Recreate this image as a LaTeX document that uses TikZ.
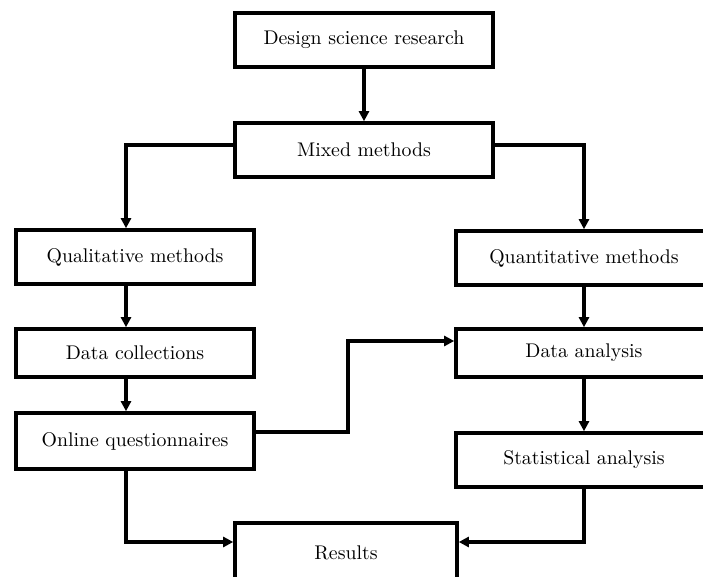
\documentclass[tikz,border=0pt]{standalone}
\usepackage{tikz}
\usetikzlibrary{arrows.meta}

\begin{document}
\begin{tikzpicture}[x=0.5pt, y=-0.5pt, line width=1.8pt,
  box/.style={rectangle, draw, inner sep=0, minimum height=27pt, font=\fontsize{9.9}{11}\selectfont},
  lbox/.style={box, minimum width=119pt},
  rbox/.style={box, minimum width=128pt},
  arr/.style={-{Triangle[length=5pt,width=5pt]}}]
  \useasboundingbox (0,0) rectangle (703,577);
  \node[box, minimum width=129pt] (design) at (364,40)  {Design science research};
  \node[box, minimum width=129pt] (mixed)  at (364,150) {Mixed methods};
  \node[lbox] (qual)    at (135,257) {Qualitative methods};
  \node[rbox] (quant)   at (584,258) {Quantitative methods};
  \node[lbox, minimum height=24pt] (datacol) at (135,353) {Data collections};
  \node[rbox, minimum height=24pt] (dataan)  at (584,353) {Data analysis};
  \node[lbox, minimum height=28pt] (online)  at (135,441) {Online questionnaires};
  \node[rbox] (stat)    at (584,460) {Statistical analysis};
  \node[box, minimum width=111pt, minimum height=30pt] (results) at (346,553) {Results};
  \coordinate (lx) at (126,0);
  \draw[arr] (design) -- (mixed);
  \draw[arr] ([yshift=2.5pt]mixed.west) -| (qual.north -| lx);
  \draw[arr] ([yshift=2.5pt]mixed.east) -| (quant.north);
  \draw[arr] (qual.south -| lx) -- (datacol.north -| lx);
  \draw[arr] (datacol.south -| lx) -- (online.north -| lx);
  \draw[arr] (quant) -- (dataan);
  \draw[arr] (dataan) -- (stat);
  \draw[arr] ([yshift=4.5pt]online.east) -- ++(92,0) |- ([yshift=6pt]dataan.west);
  \draw[arr] (online.south -| lx) |- ([yshift=5.5pt]results.west);
  \draw[arr] (stat.south) |- ([yshift=5.5pt]results.east);
\end{tikzpicture}
\end{document}
